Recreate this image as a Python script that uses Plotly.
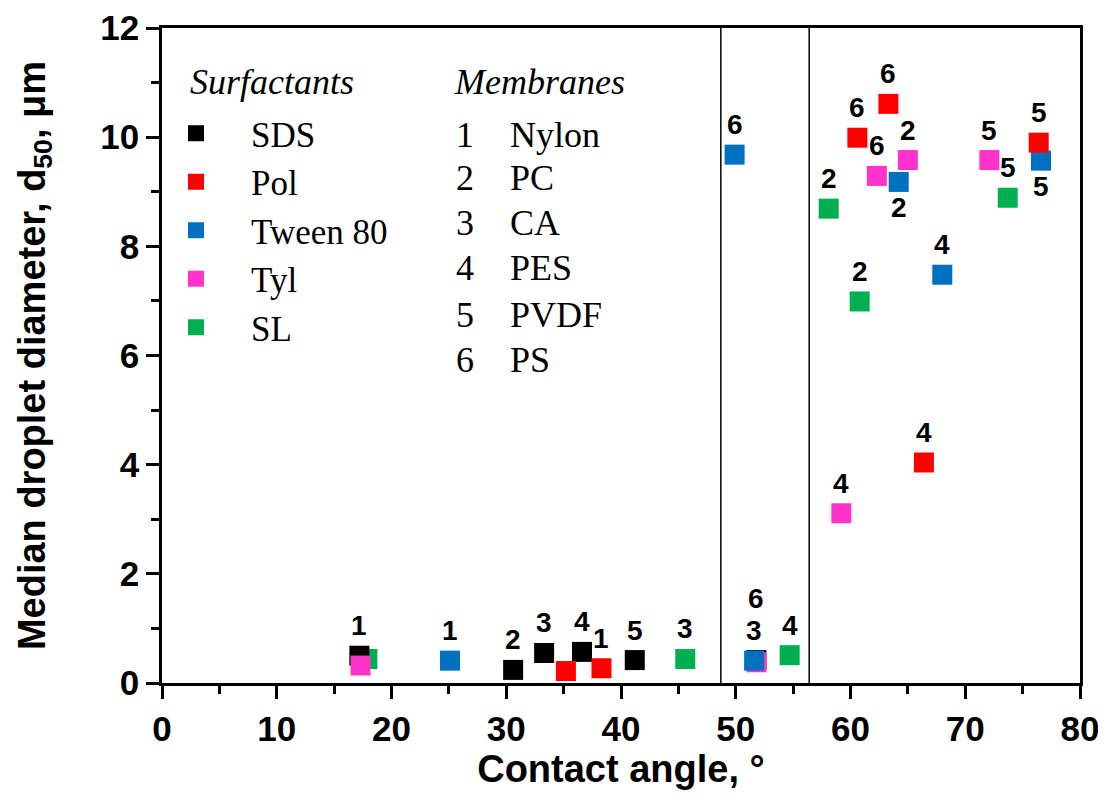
import plotly.graph_objects as go

# ---------------- data ----------------
surfactants = ["SDS", "Pol", "Tween 80", "Tyl", "SL"]
colors = ["#000000", "#FF0000", "#0070C0", "#FF33CC", "#00B050"]

sds_angle = [17.2, 30.6, 33.3, 36.6, 41.2, 51.8]
sds_d50 = [0.50, 0.24, 0.55, 0.57, 0.42, 0.42]
sds_label = ["1", "2", "3", "4", "5", "6"]

pol_angle = [35.2, 38.3, 60.6, 63.3, 66.4, 76.4]
pol_d50 = [0.22, 0.27, 9.99, 10.61, 4.04, 9.90]
pol_label = ["", "1", "6", "6", "4", "5"]

tween_angle = [25.1, 49.9, 51.6, 64.2, 68.0, 76.6]
tween_d50 = [0.41, 9.68, 0.41, 9.18, 7.48, 9.57]
tween_label = ["1", "6", "3", "2", "4", "5"]

tyl_angle = [17.3, 51.8, 59.2, 62.3, 65.0, 72.1]
tyl_d50 = [0.32, 0.38, 3.11, 9.29, 9.58, 9.58]
tyl_label = ["", "", "4", "6", "2", "5"]

sl_angle = [17.9, 45.6, 54.7, 58.1, 60.8, 73.7]
sl_d50 = [0.44, 0.44, 0.51, 8.69, 6.99, 8.89]
sl_label = ["", "3", "4", "2", "2", "5"]

membrane_ids = ["1", "2", "3", "4", "5", "6"]
membrane_names = ["Nylon", "PC", "CA", "PES", "PVDF", "PS"]

divider_angles = [48.7, 56.4]

x_ticks = [0, 10, 20, 30, 40, 50, 60, 70, 80]
y_ticks = [0, 2, 4, 6, 8, 10, 12]

# label placement (style, not data)
label_place = {
    ("SDS", 5): "above2",
    ("Tween 80", 3): "below",
    ("Tween 80", 5): "below",
}

series = {
    "SDS": (sds_angle, sds_d50, sds_label),
    "Pol": (pol_angle, pol_d50, pol_label),
    "Tween 80": (tween_angle, tween_d50, tween_label),
    "Tyl": (tyl_angle, tyl_d50, tyl_label),
    "SL": (sl_angle, sl_d50, sl_label),
}
color_of = dict(zip(surfactants, colors))
draw_order = ["SL", "SDS", "Tyl", "Tween 80", "Pol"]

# ---------------- figure ----------------
OFF = 8  # page body margin
W, H = 1106 - OFF, 805 - OFF
# desired plot box in page pixels
PL, PR, PT, PB = 162, 1080, 28, 683
ML, MT = PL - OFF, PT - OFF
MR, MB = W - (PR - OFF), H - (PB - OFF)
PW, PH = PR - PL, PB - PT

def px_x(p):  # page px -> paper x
    return (p - PL) / PW

def px_y(p):  # page px -> paper y
    return 1 - (p - PT) / PH

fig = go.Figure()
NB = "\u00a0"
for name in draw_order:
    xs, ys, _ = series[name]
    fig.add_trace(go.Scatter(
        x=xs, y=ys, mode="markers", name=NB * 4 + name,
        legendrank=surfactants.index(name) + 1,
        marker=dict(symbol="square", size=20, color=color_of[name],
                    line=dict(width=0)),
    ))

annotations = []
lab_font = dict(family="Liberation Sans", size=28, color="black", weight="bold")
for name in draw_order:
    xs, ys, labs = series[name]
    for i, (x, y, lab) in enumerate(zip(xs, ys, labs)):
        if not lab:
            continue
        place = label_place.get((name, i), "above")
        shift = {"above": 30, "above2": 62, "below": -26}[place]
        annotations.append(dict(x=x, y=y, text=lab, showarrow=False,
                                yshift=shift, font=lab_font,
                                xanchor="center", yanchor="middle"))

serif = dict(family="Liberation Serif", size=36, color="black")
annotations.append(dict(xref="paper", yref="paper", x=px_x(188), y=px_y(82),
                        text="<i>Surfactants</i>", showarrow=False,
                        xanchor="left", yanchor="middle", font=serif))
annotations.append(dict(xref="paper", yref="paper", x=px_x(452), y=px_y(82),
                        text="<i>Membranes</i>", showarrow=False,
                        xanchor="left", yanchor="middle", font=serif))
row_y = [135, 178, 223, 268, 315, 360]
for mid, mname, ry in zip(membrane_ids, membrane_names, row_y):
    annotations.append(dict(xref="paper", yref="paper", x=px_x(454), y=px_y(ry),
                            text=mid, showarrow=False, xanchor="left",
                            yanchor="middle", font=serif))
    annotations.append(dict(xref="paper", yref="paper", x=px_x(508), y=px_y(ry),
                            text=mname, showarrow=False, xanchor="left",
                            yanchor="middle", font=serif))

shapes = [dict(type="line", xref="x", yref="paper", x0=a, x1=a, y0=0, y1=1,
               line=dict(color="black", width=1.5)) for a in divider_angles]

axis_font = dict(family="Liberation Sans", size=35, color="black", weight="bold")
title_font = dict(family="Liberation Sans", size=38, color="black", weight="bold")

fig.update_layout(
    width=W, height=H,
    margin=dict(l=ML, r=MR, t=MT, b=MB, pad=0, autoexpand=False),
    plot_bgcolor="white", paper_bgcolor="white",
    showlegend=True,
    legend=dict(
        x=px_x(176), y=px_y(104), xanchor="left", yanchor="top",
        bgcolor="rgba(0,0,0,0)", borderwidth=0,
        font=dict(family="Liberation Serif", size=35, color="black"),
        traceorder="normal", itemsizing="trace",
    ),
    annotations=annotations,
    shapes=shapes,
    xaxis=dict(
        range=[0, 80], tickvals=x_ticks, ticks="outside", ticklen=13,
        tickwidth=2.5, tickcolor="black", showline=True, linecolor="black",
        linewidth=2.5, mirror=True, showgrid=False, zeroline=False,
        tickfont=axis_font, automargin=False,
        minor=dict(dtick=5, tick0=0, ticks="outside", ticklen=8, tickwidth=2.5,
                   tickcolor="black", showgrid=False),
        title=dict(text="Contact angle, °", font=title_font, standoff=0),
    ),
    yaxis=dict(
        range=[0, 12], tickvals=y_ticks, ticks="outside", ticklen=13,
        tickwidth=2.5, tickcolor="black", showline=True, linecolor="black",
        linewidth=2.5, mirror=True, showgrid=False, zeroline=False,
        tickfont=axis_font, automargin=False,
        minor=dict(dtick=1, tick0=0, ticks="outside", ticklen=8, tickwidth=2.5,
                   tickcolor="black", showgrid=False),
        title=dict(text="Median droplet diameter, d<sub>50</sub>, μm",
                   font=title_font, standoff=44),
    ),
)

fig.write_html("out.html")
